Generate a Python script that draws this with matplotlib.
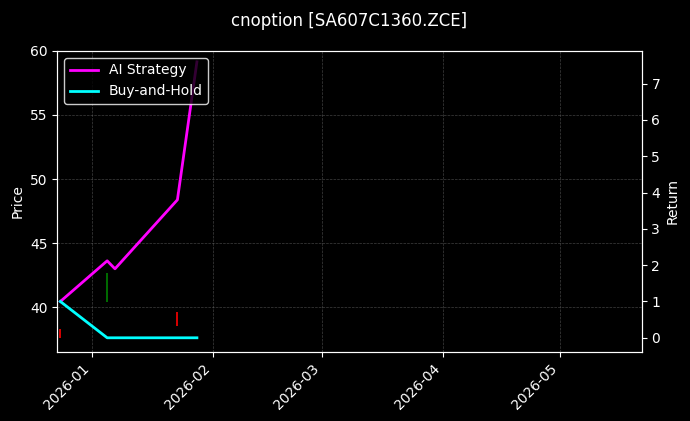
import matplotlib
matplotlib.use("Agg")
import matplotlib.pyplot as plt
import matplotlib.dates as mdates
import pandas as pd

line_dates = pd.to_datetime(["2025-12-24", "2026-01-05", "2026-01-07", "2026-01-23", "2026-01-28"])
ai_ret = [1.0, 2.12, 1.9, 3.8, 7.6]
bh_ret = [1.0, 0.0, 0.0, 0.0, 0.0]
candle_dates = pd.to_datetime(["2025-12-24", "2026-01-05", "2026-01-23"])
c_open = [38.3, 40.4, 39.6]
c_close = [37.6, 42.7, 38.5]

plt.style.use("dark_background")
fig, ax = plt.subplots(figsize=(6.9, 4.21), dpi=100)
fig.patch.set_facecolor("black")
ax.set_facecolor("black")
for d, o, c in zip(candle_dates, c_open, c_close):
    col = "green" if c >= o else "red"
    ax.vlines(d, min(o, c), max(o, c), color=col, linewidth=1.2)
ax.set_ylim(36.5, 60)
ax.set_xlim(pd.Timestamp("2025-12-23 05:00"), pd.Timestamp("2026-05-22"))
ax.set_ylabel("Price")
ax.grid(True, color="gray", linestyle="--", linewidth=0.5, alpha=0.5)
ax.xaxis.set_major_locator(mdates.MonthLocator())
ax.xaxis.set_major_formatter(mdates.DateFormatter("%Y-%m"))
plt.setp(ax.get_xticklabels(), rotation=45, ha="right")

ax2 = ax.twinx()
ax2.plot(line_dates, ai_ret, color="magenta", linewidth=2, label="AI Strategy")
ax2.plot(line_dates[:len(bh_ret)], bh_ret, color="cyan", linewidth=2, label="Buy-and-Hold")
ax2.set_ylim(-0.39, 7.9)
ax2.set_ylabel("Return")
ax2.legend(loc="upper left", facecolor="black", edgecolor="white", framealpha=0.8)
ax.set_title("cnoption [SA607C1360.ZCE]", pad=18)
fig.subplots_adjust(left=0.083, right=0.930, top=0.879, bottom=0.164)
fig.savefig("out.png", dpi=100, facecolor=fig.get_facecolor())
